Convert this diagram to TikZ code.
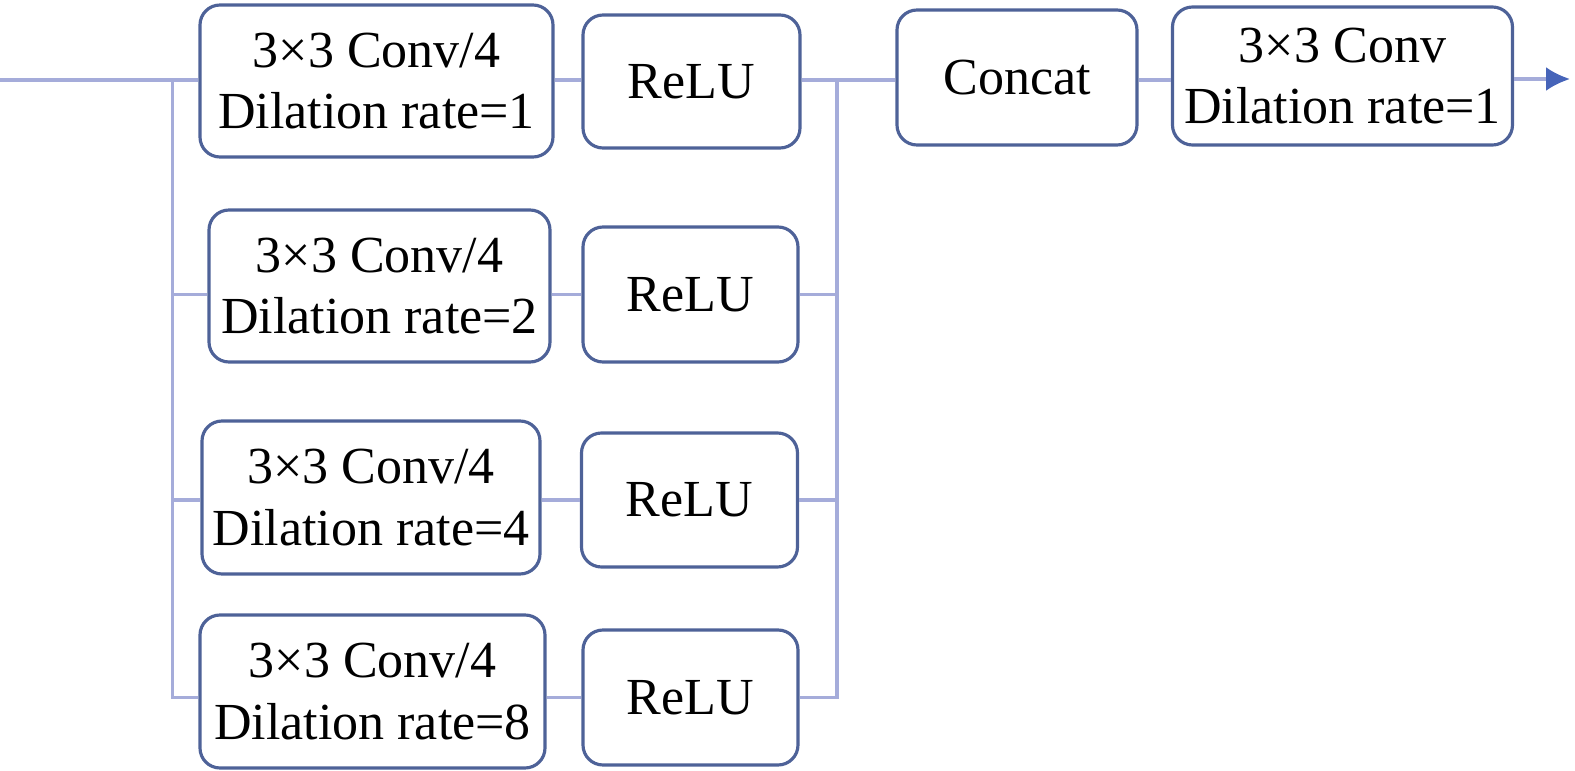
\documentclass[tikz,border=0pt]{standalone}
\usepackage{fontspec}
\setmainfont{Liberation Serif}
\usetikzlibrary{arrows.meta,positioning}
\definecolor{boxblue}{RGB}{78,98,152}
\definecolor{wireblue}{RGB}{165,172,218}
\definecolor{tipblue}{RGB}{70,100,185}
\tikzset{
  block/.style={draw=boxblue, line width=0.9pt, rounded corners=2mm, fill=white, align=center, inner sep=0pt,
    font=\fontsize{14.8}{17.6}\selectfont},
  convblock/.style={block, minimum width=3.45cm, minimum height=1.52cm},
  relublock/.style={block, minimum width=2.16cm, minimum height=1.34cm},
  wire/.style={draw=wireblue, line width=0.9pt},
  outarrow/.style={wire, -{Latex[length=2.4mm,width=2.4mm,color=tipblue]}}
}
\begin{document}
\begin{tikzpicture}
  \useasboundingbox (0,0) rectangle (15.75,-7.71);
  \node[convblock, minimum width=3.53cm] (conva) at (3.765,-0.81) {3×3 Conv/4\\Dilation rate=1};
  \node[convblock, minimum width=3.41cm] (convb) at (3.795,-2.86) {3×3 Conv/4\\Dilation rate=2};
  \node[convblock, minimum width=3.38cm, minimum height=1.53cm] (convc) at (3.71,-4.975) {3×3 Conv/4\\Dilation rate=4};
  \node[convblock, minimum height=1.53cm] (convd) at (3.725,-6.915) {3×3 Conv/4\\Dilation rate=8};
  \node[relublock, minimum width=2.17cm, minimum height=1.33cm] (relua) at (6.915,-0.815) {ReLU};
  \node[relublock, minimum width=2.15cm, minimum height=1.35cm] (relub) at (6.905,-2.945) {ReLU};
  \node[relublock] (reluc) at (6.895,-5.0) {ReLU};
  \node[relublock, minimum width=2.15cm, minimum height=1.35cm] (relud) at (6.905,-6.975) {ReLU};
  \node[block, minimum width=2.40cm, minimum height=1.35cm] (concat) at (10.17,-0.775) {Concat};
  \node[block, minimum width=3.40cm, minimum height=1.38cm] (convout) at (13.425,-0.76) {3×3 Conv\\Dilation rate=1};
  \coordinate (in) at (0,-0.80);
  \coordinate (split) at (1.725,-0.80);
  \coordinate (merge) at (8.37,-0.80);
  \coordinate (out) at (15.70,-0.79);
  % input and split bus
  \draw[wire] (in) -- (conva.west |- in);
  \draw[wire] (split) -- (split |- relud.center) -- (convd.west |- relud.center);
  \draw[wire] (split |- relub.center) -- (convb.west |- relub.center);
  \draw[wire] (split |- reluc.center) -- (convc.west |- reluc.center);
  % conv to relu
  \draw[wire] (conva.east |- merge) -- (relua.west |- merge);
  \draw[wire] (convb.east |- relub.center) -- (relub.west);
  \draw[wire] (convc.east |- reluc.center) -- (reluc.west);
  \draw[wire] (convd.east |- relud.center) -- (relud.west);
  % merge bus
  \draw[wire] (relua.east |- merge) -- (concat.west |- merge);
  \draw[wire] (merge) -- (merge |- relud.center) -- (relud.east);
  \draw[wire] (relub.east) -- (merge |- relub.center);
  \draw[wire] (reluc.east) -- (merge |- reluc.center);
  \draw[wire] (concat.east |- merge) -- (convout.west |- merge);
  \draw[outarrow] (convout.east |- out) -- (out);
\end{tikzpicture}
\end{document}
